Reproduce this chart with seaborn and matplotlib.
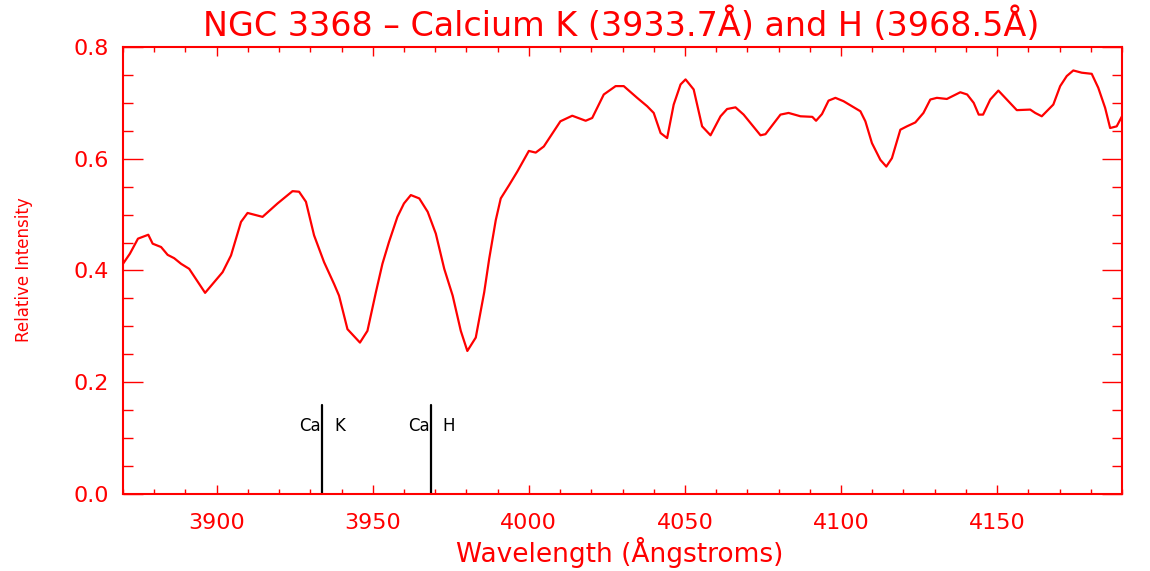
import matplotlib
matplotlib.use("Agg")
import matplotlib.pyplot as plt
from matplotlib.ticker import MultipleLocator
import seaborn as sns
import pandas as pd

sns.set_style("white")
plt.rcParams['font.family'] = ['DejaVu Sans']

wavelength = [
    3870.0, 3872.2, 3874.8, 3878.1, 3879.5, 3882.2, 3884.3, 3886.4, 3888.6, 3891.2,
    3896.3, 3901.9, 3904.6, 3907.8, 3909.9, 3914.7, 3919.5, 3924.3, 3926.4, 3928.6,
    3931.2, 3934.4, 3937.6, 3939.2, 3941.9, 3945.9, 3948.3, 3951.0, 3953.1, 3955.2,
    3957.9, 3960.0, 3962.2, 3964.9, 3967.6, 3970.2, 3972.9, 3975.6, 3978.2, 3980.3,
    3983.0, 3985.7, 3987.3, 3989.4, 3991.0, 3993.7, 3996.3, 3998.4, 4000.0, 4002.2,
    4004.8, 4010.1, 4013.9, 4018.2, 4020.3, 4024.0, 4027.8, 4030.4, 4034.7, 4037.9,
    4040.0, 4042.2, 4044.3, 4046.4, 4048.6, 4050.2, 4052.8, 4055.5, 4058.2, 4061.4,
    4063.5, 4066.2, 4068.8, 4074.2, 4075.8, 4080.6, 4083.2, 4087.0, 4090.8, 4092.0,
    4093.9, 4096.0, 4098.2, 4100.8, 4106.2, 4107.8, 4109.9, 4112.6, 4114.5, 4116.3,
    4119.0, 4121.1, 4123.8, 4126.4, 4128.6, 4130.7, 4133.9, 4138.2, 4140.4, 4142.5,
    4144.1, 4145.5, 4147.8, 4150.4, 4153.1, 4156.3, 4160.6, 4162.2, 4164.3, 4168.0,
    4170.2, 4172.3, 4174.4, 4177.1, 4180.3, 4182.4, 4184.6, 4186.2, 4188.3, 4190.0,
]
intensity = [
    0.412, 0.430, 0.457, 0.464, 0.448, 0.442, 0.428, 0.422, 0.412, 0.403,
    0.360, 0.397, 0.427, 0.487, 0.503, 0.496, 0.520, 0.542, 0.541, 0.523,
    0.463, 0.415, 0.376, 0.355, 0.295, 0.271, 0.292, 0.361, 0.412, 0.451,
    0.496, 0.520, 0.535, 0.529, 0.505, 0.466, 0.403, 0.355, 0.292, 0.256,
    0.280, 0.361, 0.421, 0.490, 0.529, 0.553, 0.577, 0.598, 0.614, 0.611,
    0.622, 0.667, 0.677, 0.668, 0.673, 0.715, 0.730, 0.730, 0.709, 0.694,
    0.682, 0.646, 0.637, 0.697, 0.733, 0.742, 0.724, 0.658, 0.642, 0.676,
    0.689, 0.692, 0.679, 0.642, 0.644, 0.679, 0.682, 0.676, 0.675, 0.668,
    0.680, 0.704, 0.709, 0.703, 0.685, 0.667, 0.628, 0.598, 0.586, 0.601,
    0.652, 0.658, 0.665, 0.682, 0.706, 0.709, 0.707, 0.719, 0.715, 0.700,
    0.679, 0.679, 0.706, 0.722, 0.706, 0.687, 0.688, 0.682, 0.676, 0.697,
    0.730, 0.748, 0.758, 0.754, 0.752, 0.727, 0.691, 0.655, 0.658, 0.676,
]

line_names = ["K", "H"]
line_wavelengths = [3933.7, 3968.5]
line_height = 0.16

title = "NGC 3368 \u2013 Calcium K (3933.7\u00c5) and H (3968.5\u00c5)"
xlabel = "Wavelength (\u00c5ngstroms)"
ylabel = "Relative Intensity"

RED = "#ff0000"

df = pd.DataFrame({"wavelength": wavelength, "intensity": intensity})

fig = plt.figure(figsize=(11.5, 5.71), dpi=100)
ax = fig.add_axes([123 / 1150, 1 - 494 / 571, (1122 - 123) / 1150, (494 - 47) / 571])

sns.lineplot(data=df, x="wavelength", y="intensity", ax=ax, color=RED,
             linewidth=1.6, sort=False, estimator=None,
             solid_joinstyle="round", solid_capstyle="round")

for name, wl in zip(line_names, line_wavelengths):
    ax.plot([wl, wl], [0, line_height], color="black", linewidth=1.6)
    ax.text(wl - 0.2, 0.121, "Ca", color="black", fontsize=12, ha="right", va="center")
    ax.text(wl + 3.9, 0.121, name, color="black", fontsize=12, ha="left", va="center")

ax.set_xlim(3870, 4190)
ax.set_ylim(0, 0.8)
ax.xaxis.set_major_locator(MultipleLocator(50))
ax.xaxis.set_minor_locator(MultipleLocator(10))
ax.yaxis.set_major_locator(MultipleLocator(0.2))
ax.yaxis.set_minor_locator(MultipleLocator(0.05))
ax.yaxis.set_major_formatter(matplotlib.ticker.FormatStrFormatter("%.1f"))

for s in ax.spines.values():
    s.set_color(RED)
    s.set_linewidth(1.5)

ax.tick_params(axis="both", which="both", direction="in", colors=RED,
               top=True, right=True, bottom=True, left=True, width=1.0)
ax.tick_params(axis="x", which="major", length=6.5, pad=14, labelsize=16)
ax.tick_params(axis="x", which="minor", length=3.3)
ax.tick_params(axis="y", which="major", length=14.4, pad=10, labelsize=16)
ax.tick_params(axis="y", which="minor", length=7.2)
for lab in ax.get_xticklabels() + ax.get_yticklabels():
    lab.set_color(RED)

ax.set_xlabel("")
ax.set_ylabel("")
fig.text(0.540, 1 - 25 / 571, title, color=RED, fontsize=24, ha="center", va="center")
fig.text(620 / 1150, 1 - 552 / 571, xlabel, color=RED, fontsize=19, ha="center", va="center")
fig.text(24 / 1150, 1 - 270 / 571, ylabel, color=RED, fontsize=12, ha="center", va="center",
         rotation=90)

fig.savefig("out.png", dpi=100, facecolor="white")
